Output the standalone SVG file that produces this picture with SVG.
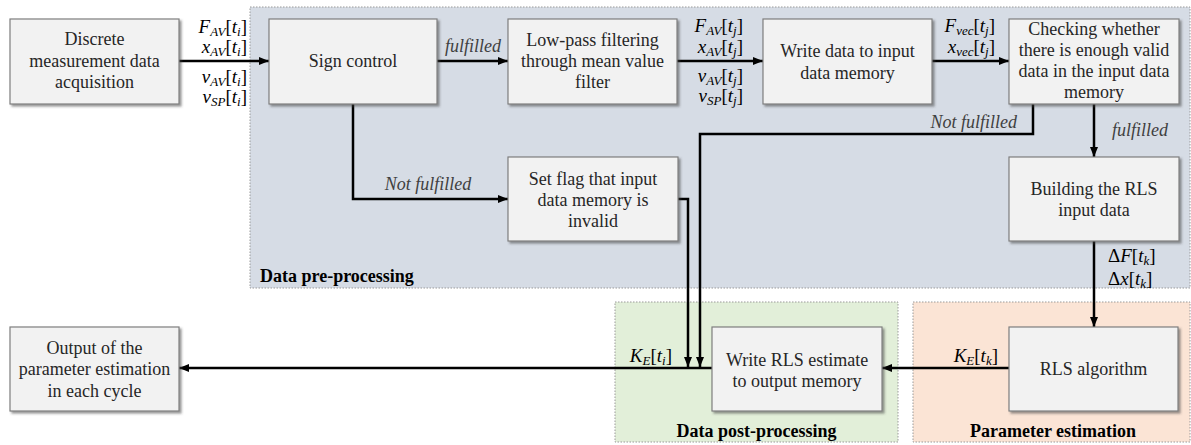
<svg xmlns="http://www.w3.org/2000/svg" width="1191" height="445" viewBox="0 0 1191 445" font-family="'Liberation Serif', 'DejaVu Serif', serif">
  <style>
    .region { stroke: #9a9a9a; stroke-width: 1; stroke-dasharray: 1.5 1.5; }
    .pre { fill: #d6dce5; }
    .post { fill: #e2efd9; }
    .param { fill: #fbe4d5; }
    .box { fill: #f2f2f2; stroke: #7f7f7f; stroke-width: 1.2; filter: url(#shadow); }
    text { font-family: 'Liberation Serif', 'DejaVu Serif', serif; }
    .t { font-size: 18px; fill: #262626; text-anchor: middle; }
    .lbl { font-size: 18px; font-style: italic; fill: #404040; }
    .rt { font-size: 18px; font-weight: bold; fill: #000; }
    .m { font-size: 19px; fill: #000; }
    .i { font-style: italic; }
    .s { font-size: 13px; font-style: italic; }
    .wire { fill: none; stroke: #000; stroke-width: 2.5; }
  </style>
  <defs>
    <filter id="shadow" x="-10%" y="-10%" width="130%" height="130%">
      <feDropShadow dx="2" dy="2" stdDeviation="1.2" flood-color="#404040" flood-opacity="0.55"/>
    </filter>
    <marker id="arrow" markerUnits="userSpaceOnUse" markerWidth="10" markerHeight="8" refX="10" refY="4" orient="auto">
      <path d="M0,0 L10,4 L0,8 Z" fill="#000"/>
    </marker>
  </defs>

  <!-- process regions -->
  <g id="region-pre">
    <rect class="region pre" x="250" y="7" width="940" height="281"/>
    <text class="rt" x="260" y="282">Data pre-processing</text>
  </g>
  <g id="region-post">
    <rect class="region post" x="615" y="302" width="283" height="140"/>
    <text class="rt" x="756.5" y="437" text-anchor="middle">Data post-processing</text>
  </g>
  <g id="region-param">
    <rect class="region param" x="913" y="302" width="277" height="140"/>
    <text class="rt" x="1053" y="437" text-anchor="middle">Parameter estimation</text>
  </g>

  <!-- connectors -->
  <g id="connectors">
    <path class="wire" d="M179,61 H269" marker-end="url(#arrow)"/>
    <path class="wire" d="M437,61 H508" marker-end="url(#arrow)"/>
    <path class="wire" d="M677,61 H763" marker-end="url(#arrow)"/>
    <path class="wire" d="M932,61 H1009" marker-end="url(#arrow)"/>
    <path class="wire" d="M353,104 V199 H508" marker-end="url(#arrow)"/>
    <path class="wire" d="M678,199 H688 V367" marker-end="url(#arrow)"/>
    <path class="wire" d="M1033,104 V134 H700 V367" marker-end="url(#arrow)"/>
    <path class="wire" d="M1094,104 V157" marker-end="url(#arrow)"/>
    <path class="wire" d="M1094,241 V327" marker-end="url(#arrow)"/>
    <path class="wire" d="M1009,368 H882" marker-end="url(#arrow)"/>
    <path class="wire" d="M712,368 H179" marker-end="url(#arrow)"/>

    <!-- connector labels -->
    <text class="lbl" x="473" y="52" text-anchor="middle">fulfilled</text>
    <text class="lbl" x="428" y="190" text-anchor="middle">Not fulfilled</text>
    <text class="lbl" x="1017" y="128" text-anchor="end">Not fulfilled</text>
    <text class="lbl" x="1112" y="136">fulfilled</text>

    <!-- signal labels -->
    <text class="m" x="247" y="33" text-anchor="end"><tspan class="i">F</tspan><tspan class="s" dy="3">AV</tspan><tspan dy="-3">[</tspan><tspan class="i">t</tspan><tspan class="s" dy="3">i</tspan><tspan dy="-3">]</tspan></text>
    <text class="m" x="247" y="53" text-anchor="end"><tspan class="i">x</tspan><tspan class="s" dy="3">AV</tspan><tspan dy="-3">[</tspan><tspan class="i">t</tspan><tspan class="s" dy="3">i</tspan><tspan dy="-3">]</tspan></text>
    <text class="m" x="247" y="83" text-anchor="end"><tspan class="i">v</tspan><tspan class="s" dy="3">AV</tspan><tspan dy="-3">[</tspan><tspan class="i">t</tspan><tspan class="s" dy="3">i</tspan><tspan dy="-3">]</tspan></text>
    <text class="m" x="247" y="103" text-anchor="end"><tspan class="i">v</tspan><tspan class="s" dy="3">SP</tspan><tspan dy="-3">[</tspan><tspan class="i">t</tspan><tspan class="s" dy="3">i</tspan><tspan dy="-3">]</tspan></text>

    <text class="m" x="743" y="32" text-anchor="end"><tspan class="i">F</tspan><tspan class="s" dy="3">AV</tspan><tspan dy="-3">[</tspan><tspan class="i">t</tspan><tspan class="s" dy="3">j</tspan><tspan dy="-3">]</tspan></text>
    <text class="m" x="743" y="53" text-anchor="end"><tspan class="i">x</tspan><tspan class="s" dy="3">AV</tspan><tspan dy="-3">[</tspan><tspan class="i">t</tspan><tspan class="s" dy="3">j</tspan><tspan dy="-3">]</tspan></text>
    <text class="m" x="743" y="82" text-anchor="end"><tspan class="i">v</tspan><tspan class="s" dy="3">AV</tspan><tspan dy="-3">[</tspan><tspan class="i">t</tspan><tspan class="s" dy="3">j</tspan><tspan dy="-3">]</tspan></text>
    <text class="m" x="743" y="102" text-anchor="end"><tspan class="i">v</tspan><tspan class="s" dy="3">SP</tspan><tspan dy="-3">[</tspan><tspan class="i">t</tspan><tspan class="s" dy="3">j</tspan><tspan dy="-3">]</tspan></text>

    <text class="m" x="995" y="32" text-anchor="end"><tspan class="i">F</tspan><tspan class="s" dy="3">vec</tspan><tspan dy="-3">[</tspan><tspan class="i">t</tspan><tspan class="s" dy="3">j</tspan><tspan dy="-3">]</tspan></text>
    <text class="m" x="995" y="53" text-anchor="end"><tspan class="i">x</tspan><tspan class="s" dy="3">vec</tspan><tspan dy="-3">[</tspan><tspan class="i">t</tspan><tspan class="s" dy="3">j</tspan><tspan dy="-3">]</tspan></text>

    <text class="m" x="1108" y="262">Δ<tspan class="i">F</tspan>[<tspan class="i">t</tspan><tspan class="s" dy="3">k</tspan><tspan dy="-3">]</tspan></text>
    <text class="m" x="1108" y="285">Δ<tspan class="i">x</tspan>[<tspan class="i">t</tspan><tspan class="s" dy="3">k</tspan><tspan dy="-3">]</tspan></text>

    <text class="m" x="998" y="362" text-anchor="end"><tspan class="i">K</tspan><tspan class="s" dy="3">E</tspan><tspan dy="-3">[</tspan><tspan class="i">t</tspan><tspan class="s" dy="3">k</tspan><tspan dy="-3">]</tspan></text>
    <text class="m" x="672" y="362" text-anchor="end"><tspan class="i">K</tspan><tspan class="s" dy="3">E</tspan><tspan dy="-3">[</tspan><tspan class="i">t</tspan><tspan class="s" dy="3">i</tspan><tspan dy="-3">]</tspan></text>
  </g>

  <!-- process steps -->
  <g id="node-acquisition">
    <rect class="box" x="10" y="19" width="169" height="85"/>
    <text class="t" x="94.5" y="45">Discrete</text>
    <text class="t" x="94.5" y="67">measurement data</text>
    <text class="t" x="94.5" y="88">acquisition</text>
  </g>
  <g id="node-sign-control">
    <rect class="box" x="269" y="19" width="168" height="85"/>
    <text class="t" x="353" y="67">Sign control</text>
  </g>
  <g id="node-lowpass">
    <rect class="box" x="508" y="19" width="169" height="85"/>
    <text class="t" x="592.5" y="46">Low-pass filtering</text>
    <text class="t" x="592.5" y="67">through mean value</text>
    <text class="t" x="592.5" y="88">filter</text>
  </g>
  <g id="node-write-input">
    <rect class="box" x="763" y="19" width="169" height="85"/>
    <text class="t" x="847.5" y="57">Write data to input</text>
    <text class="t" x="847.5" y="79">data memory</text>
  </g>
  <g id="node-check">
    <rect class="box" x="1009" y="19" width="170" height="85"/>
    <text class="t" x="1094" y="35">Checking whether</text>
    <text class="t" x="1094" y="56">there is enough valid</text>
    <text class="t" x="1094" y="77">data in the input data</text>
    <text class="t" x="1094" y="98">memory</text>
  </g>
  <g id="node-set-flag">
    <rect class="box" x="508" y="157" width="170" height="84"/>
    <text class="t" x="593" y="185">Set flag that input</text>
    <text class="t" x="593" y="206">data memory is</text>
    <text class="t" x="593" y="227">invalid</text>
  </g>
  <g id="node-build-rls">
    <rect class="box" x="1009" y="157" width="170" height="84"/>
    <text class="t" x="1094" y="195">Building the RLS</text>
    <text class="t" x="1094" y="216">input data</text>
  </g>
  <g id="node-rls">
    <rect class="box" x="1009" y="327" width="169" height="84"/>
    <text class="t" x="1093.5" y="375">RLS algorithm</text>
  </g>
  <g id="node-write-output">
    <rect class="box" x="712" y="327" width="170" height="84"/>
    <text class="t" x="797" y="366">Write RLS estimate</text>
    <text class="t" x="797" y="387">to output memory</text>
  </g>
  <g id="node-output">
    <rect class="box" x="10" y="327" width="169" height="84"/>
    <text class="t" x="94.5" y="354">Output of the</text>
    <text class="t" x="94.5" y="375">parameter estimation</text>
    <text class="t" x="94.5" y="397">in each cycle</text>
  </g>
</svg>
